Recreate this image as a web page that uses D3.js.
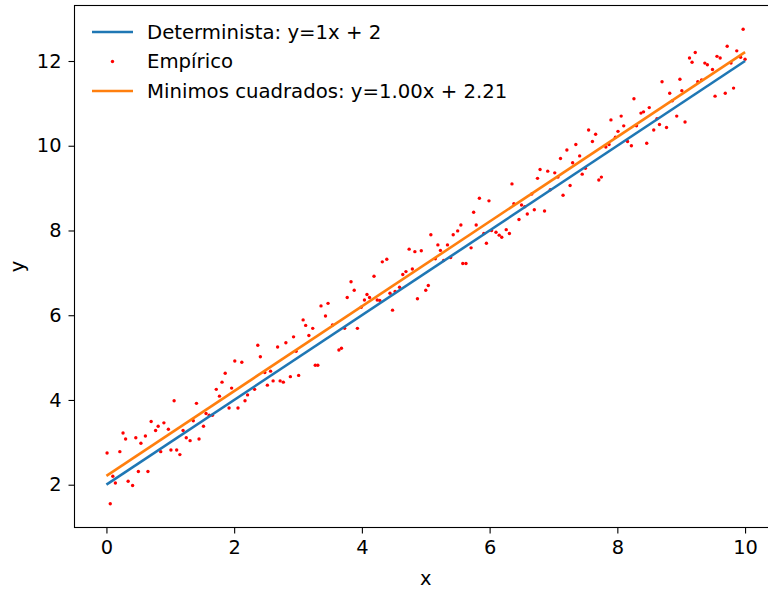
<!DOCTYPE html>
<html>
<head>
<meta charset="utf-8">
<script src="https://cdn.jsdelivr.net/npm/d3@7"></script>
<style>
  html, body { margin: 0; padding: 0; background: #fff; }
  svg { display: block; }
  text { font-family: "DejaVu Sans", sans-serif; fill: #000; }
</style>
</head>
<body>
<svg id="chart" width="768" height="590"></svg>
<script>
// ---- data ----
const empX = [
  0.01,0.06,0.10,0.14,0.21,0.26,0.30,0.34,0.41,0.46,0.50,0.54,0.61,0.65,0.70,0.77,0.81,0.85,0.90,0.97,1.01,1.06,1.10,1.15,
  1.20,1.25,1.31,1.36,1.41,1.45,1.52,1.56,1.61,1.66,1.72,1.77,1.81,1.86,1.92,1.96,2.01,2.06,2.12,2.17,2.21,2.32,2.37,2.41,
  2.48,2.52,2.57,2.61,2.68,2.72,2.77,2.81,2.88,2.93,2.97,3.01,3.08,3.12,3.17,3.23,3.27,3.31,3.36,3.43,3.47,3.54,3.64,
  3.68,3.73,3.77,3.83,3.88,3.93,3.99,4.04,4.08,4.12,4.19,4.24,4.28,4.32,4.39,4.44,4.48,4.52,4.59,4.64,4.69,4.74,4.79,4.83,4.87,4.93,
  5.00,5.04,5.08,5.15,5.19,5.23,5.28,5.34,5.39,5.43,5.50,5.55,5.58,5.63,5.71,5.75,5.79,5.84,5.91,5.95,5.99,6.03,6.10,6.15,
  6.19,6.26,6.31,6.35,6.38,6.46,6.50,6.55,6.59,6.66,6.70,6.75,6.79,6.86,6.91,6.95,7.02,7.07,7.11,7.15,7.21,7.26,7.30,7.35,7.41,7.45,
  7.50,7.55,7.61,7.66,7.71,7.75,7.82,7.87,7.90,7.97,8.01,8.06,8.10,8.16,8.22,8.26,8.30,8.37,8.41,8.46,8.50,8.57,8.62,8.66,8.70,
  8.77,8.82,8.86,8.93,8.98,9.01,9.06,9.13,9.17,9.22,9.26,9.32,9.37,9.41,9.49,9.53,9.56,9.61,9.69,9.72,9.78,9.82,9.87,9.93,9.97,10.00
];
const empY = [
  2.75,1.55,2.20,2.04,2.78,3.22,3.08,2.08,1.98,3.11,2.31,2.98,3.15,2.31,3.49,3.28,3.38,2.78,3.46,3.31,2.82,3.98,2.82,2.71,
  3.28,3.11,3.04,3.51,3.92,3.08,3.38,3.68,3.64,3.64,4.25,4.09,4.42,4.63,3.81,4.28,4.92,3.81,4.89,3.98,4.12,4.25,5.29,5.02,
  4.65,4.35,4.68,4.45,5.25,4.45,4.42,5.35,4.55,5.49,5.15,4.58,5.89,5.76,5.52,5.69,4.82,4.82,6.22,5.98,6.28,5.77,5.18,
  5.22,5.69,6.42,6.79,6.59,5.69,6.19,6.36,6.49,6.42,6.92,6.36,6.35,7.26,7.32,6.52,6.12,6.56,6.66,6.96,7.03,7.56,7.09,7.50,6.39,7.52,
  6.59,6.70,7.90,7.33,7.66,7.53,7.29,7.66,7.36,7.90,7.99,8.13,7.22,7.22,7.59,8.43,8.13,8.76,7.93,7.70,8.70,8.00,7.96,7.89,
  7.84,8.02,7.93,9.10,8.63,8.26,8.60,8.56,8.39,8.86,8.49,9.23,9.44,8.46,9.40,8.96,9.36,9.26,9.70,8.83,9.90,9.06,9.60,10.03,9.76,9.33,
  9.47,10.37,10.10,10.27,9.19,9.26,9.97,10.03,10.61,10.20,10.34,10.70,10.47,10.10,10.00,11.11,10.47,10.77,10.80,10.06,10.90,10.37,10.64,10.50,11.51,
  10.43,11.24,11.06,10.70,11.57,11.30,10.56,12.07,11.97,12.20,11.51,11.55,11.95,11.91,11.80,11.17,12.11,12.07,11.24,12.35,11.95,11.36,12.24,12.09,12.75,12.04
];
const lineX = [0, 10];
const detSlope = 1, detIntercept = 2;
const lsSlope = 1.00, lsIntercept = 2.21;
const legendLabels = ["Determinista: y=1x + 2", "Empírico", "Minimos cuadrados: y=1.00x + 2.21"];
const xTicks = [0, 2, 4, 6, 8, 10];
const yTicks = [2, 4, 6, 8, 10, 12];
const xLabel = "x", yLabel = "y";

// ---- layout ----
const blue = "#1f77b4", orange = "#ff7f0e", red = "#ff0000";
const fs = 19.4;
const legFs = 19.7;
const frame = { left: 74.5, right: 777, top: 5.5, bottom: 527.5 };

const x = d3.scaleLinear().domain([-0.5, 10.5]).range([frame.left, frame.right]);
const yPad = 0.05 * (d3.max(empY) - d3.min(empY));
const y = d3.scaleLinear().domain([d3.min(empY) - yPad, d3.max(empY) + yPad]).range([frame.bottom, frame.top]);

const svg = d3.select("#chart");

// scatter
svg.append("g").selectAll("circle").data(empX.map((v, i) => [v, empY[i]])).join("circle")
  .attr("cx", d => x(d[0])).attr("cy", d => y(d[1])).attr("r", 1.7).attr("fill", red);

// lines
const line = d3.line().x(d => x(d[0])).y(d => y(d[1]));
svg.append("path").datum(lineX.map(v => [v, detSlope * v + detIntercept]))
  .attr("d", line).attr("stroke", blue).attr("stroke-width", 2.6).attr("fill", "none");
svg.append("path").datum(lineX.map(v => [v, lsSlope * v + lsIntercept]))
  .attr("d", line).attr("stroke", orange).attr("stroke-width", 2.6).attr("fill", "none");

// axes
const xAxis = d3.axisBottom(x).tickValues(xTicks).tickSize(6).tickPadding(7).tickFormat(d3.format("d"));
const yAxis = d3.axisLeft(y).tickValues(yTicks).tickSize(6).tickPadding(7).tickFormat(d3.format("d"));
const gx = svg.append("g").attr("transform", `translate(0,${frame.bottom})`).call(xAxis);
const gy = svg.append("g").attr("transform", `translate(${frame.left},0)`).call(yAxis);
[gx, gy].forEach(g => {
  g.select(".domain").remove();
  g.selectAll("line").attr("stroke", "#000").attr("stroke-width", 1.1);
  g.selectAll("text").style("font-size", fs + "px").style("font-family", "DejaVu Sans").attr("fill", "#000");
});

// frame
svg.append("rect").attr("x", frame.left).attr("y", frame.top)
  .attr("width", frame.right - frame.left).attr("height", frame.bottom - frame.top)
  .attr("fill", "none").attr("stroke", "#000").attr("stroke-width", 1.1);

// axis labels
svg.append("text").attr("x", (frame.left + frame.right) / 2 - 0).attr("y", 585)
  .attr("text-anchor", "middle").style("font-size", fs + "px").text(xLabel);
svg.append("text").attr("transform", `translate(24,${(frame.top + frame.bottom) / 2}) rotate(-90)`)
  .attr("text-anchor", "middle").style("font-size", fs + "px").text(yLabel);

// legend
const lg = svg.append("g");
const legY = [32, 61.5, 91];
const kinds = ["line", "dot", "line"];
const cols = [blue, red, orange];
legendLabels.forEach((t, i) => {
  if (kinds[i] === "line") {
    lg.append("line").attr("x1", 92).attr("x2", 133).attr("y1", legY[i]).attr("y2", legY[i])
      .attr("stroke", cols[i]).attr("stroke-width", 2.6);
  } else {
    lg.append("circle").attr("cx", 112.5).attr("cy", legY[i]).attr("r", 1.7).attr("fill", cols[i]);
  }
  lg.append("text").attr("x", 147).attr("y", legY[i]).attr("dy", "0.35em")
    .style("font-size", legFs + "px").text(t);
});
</script>
</body>
</html>
